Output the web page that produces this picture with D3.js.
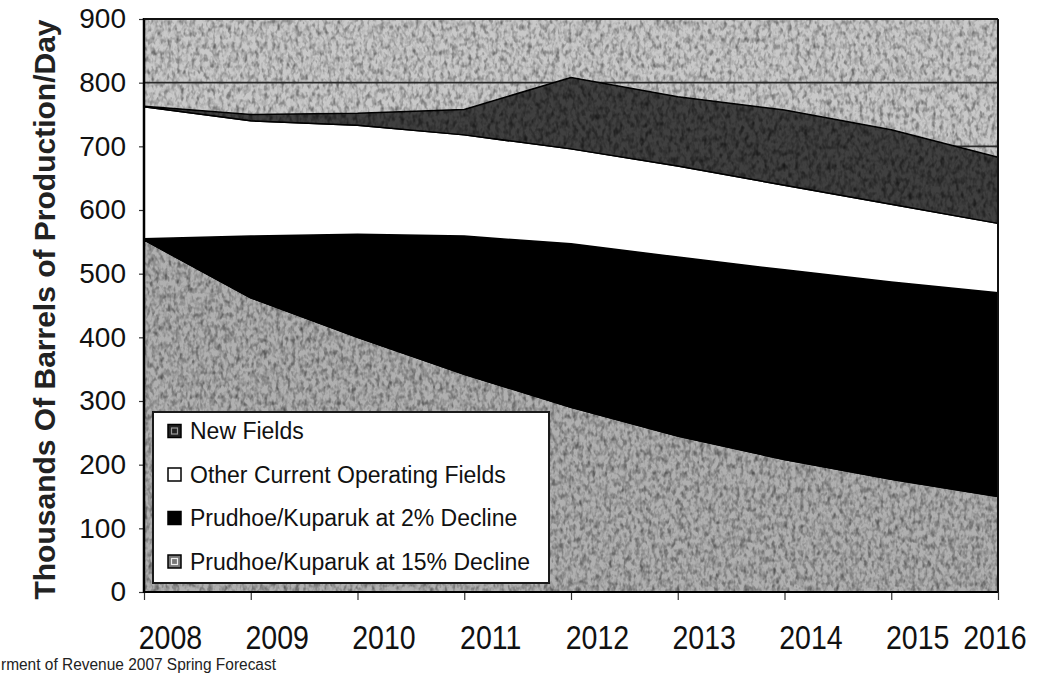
<!DOCTYPE html>
<html>
<head>
<meta charset="utf-8">
<script src="https://cdn.jsdelivr.net/npm/d3@7"></script>
<style>
  html, body { margin: 0; padding: 0; background: #ffffff; }
  svg { display: block; }
</style>
</head>
<body>
<svg id="chart" width="1046" height="681"></svg>
<script>
// North Slope production outlook, thousands of barrels per day (stacked layers)
const years = [2008, 2009, 2010, 2011, 2012, 2013, 2014, 2015, 2016];
const prudhoe15 = [553, 462, 400, 342, 290, 245, 208, 177, 150];
const prudhoe2 = [2, 97, 162, 217, 257, 281, 298, 310, 320];
const otherFields = [207, 181, 171, 159, 149, 143, 133, 122, 109];
const newFields = [1, 10, 19, 40, 112, 109, 118, 117, 104];
const yTicks = [0, 100, 200, 300, 400, 500, 600, 700, 800, 900];

const seriesKeys = ["p15", "p2", "other", "newf"];
const seriesNames = {
  newf: "New Fields",
  other: "Other Current Operating Fields",
  p2: "Prudhoe/Kuparuk at 2% Decline",
  p15: "Prudhoe/Kuparuk at 15% Decline"
};
const legendOrder = ["newf", "other", "p2", "p15"];
const fills = { p15: "#b0b0b0", p2: "#000000", other: "#ffffff", newf: "#404040" };

const rows = years.map((yr, i) => ({
  year: yr, p15: prudhoe15[i], p2: prudhoe2[i], other: otherFields[i], newf: newFields[i]
}));

const svg = d3.select("#chart");
const plotL = 144, plotR = 998, plotT = 19, plotB = 592;

const x = d3.scaleLinear().domain([2008, 2016]).range([plotL, plotR]);
const y = d3.scaleLinear().domain([0, 900]).range([plotB, plotT]);

// speckle filters: noise turned into a sparse alpha mask, clipped to the shape
const defs = svg.append("defs");
function speckle(id, freq, seed, gain, offset) {
  const f = defs.append("filter").attr("id", id)
    .attr("x", 0).attr("y", 0).attr("width", "100%").attr("height", "100%");
  f.append("feTurbulence").attr("type", "fractalNoise")
    .attr("baseFrequency", freq).attr("numOctaves", 2).attr("seed", seed).attr("result", "noise");
  f.append("feColorMatrix").attr("in", "noise").attr("type", "matrix")
    .attr("values", `0 0 0 0 0  0 0 0 0 0  0 0 0 0 0  ${gain} 0 0 0 ${offset}`).attr("result", "mask");
  f.append("feComposite").attr("in", "mask").attr("in2", "SourceAlpha").attr("operator", "in");
}
speckle("darkSpeck", "0.22 0.14", 7, 2.6, -1.2);
speckle("lightSpeck", "0.25 0.16", 19, 2.6, -1.2);

function textured(sel, darkOpacity, lightOpacity) {
  sel.clone().attr("fill", "#000").attr("stroke", "none")
    .attr("filter", "url(#darkSpeck)").attr("opacity", darkOpacity);
  sel.clone().attr("fill", "#fff").attr("stroke", "none")
    .attr("filter", "url(#lightSpeck)").attr("opacity", lightOpacity);
}

// plot background
const bg = svg.append("rect")
  .attr("x", plotL).attr("y", plotT)
  .attr("width", plotR - plotL).attr("height", plotB - plotT)
  .attr("fill", "#c9c9c9");
textured(bg, 0.22, 0.4);

// horizontal gridlines
svg.append("g").selectAll("line").data(yTicks.slice(1, -1)).join("line")
  .attr("x1", plotL).attr("x2", plotR)
  .attr("y1", d => y(d)).attr("y2", d => y(d))
  .attr("stroke", "#2a2a2a").attr("stroke-width", 1.6);

// stacked areas
const stack = d3.stack().keys(seriesKeys);
const layers = stack(rows);
const area = d3.area()
  .x(d => x(d.data.year))
  .y0(d => y(d[0]))
  .y1(d => y(d[1]));

const areaG = svg.append("g");
areaG.selectAll("path.layer").data(layers).join("path")
  .attr("class", "layer")
  .attr("d", area)
  .attr("fill", d => fills[d.key])
  .attr("stroke", "#000").attr("stroke-width", 1.5).attr("stroke-linejoin", "round");

areaG.selectAll("path.layer").filter(d => d.key === "p15").call(s => textured(s, 0.3, 0.4));
areaG.selectAll("path.layer").filter(d => d.key === "newf").call(s => textured(s, 0.5, 0.3));

// legend
const lg = svg.append("g");
lg.append("rect")
  .attr("x", 153).attr("y", 412).attr("width", 396).attr("height", 171)
  .attr("fill", "#ffffff").attr("stroke", "#1a1a1a").attr("stroke-width", 2);
const items = lg.selectAll("g.item").data(legendOrder).join("g")
  .attr("class", "item")
  .attr("transform", (d, i) => `translate(168, ${431 + i * 43.5})`);
items.append("rect")
  .attr("x", 0).attr("y", -6.5).attr("width", 13).attr("height", 13)
  .attr("fill", d => d === "newf" ? "#222" : d === "p15" ? "#777" : fills[d])
  .attr("stroke", "#000").attr("stroke-width", 1.5);
items.filter(d => d === "newf" || d === "p15").append("rect")
  .attr("x", 3.5).attr("y", -3).attr("width", 6).attr("height", 6)
  .attr("fill", "none").attr("stroke", d => d === "newf" ? "#9a9a9a" : "#eee").attr("stroke-width", 1.2);
items.append("text")
  .attr("x", 22).attr("y", 0).attr("dy", "0.35em")
  .attr("font-family", "Liberation Sans, Arial, sans-serif")
  .attr("font-size", 23).attr("fill", "#111")
  .text(d => seriesNames[d]);

// axes
const yAxis = d3.axisLeft(y).tickValues(yTicks).tickSize(5).tickPadding(13).tickFormat(d3.format("d"));
const yg = svg.append("g").attr("transform", `translate(${plotL},0)`).call(yAxis);
yg.select(".domain").remove();
yg.selectAll(".tick line").attr("stroke", "#333").attr("stroke-width", 1.2);
yg.selectAll(".tick text")
  .attr("font-family", "Liberation Sans, Arial, sans-serif")
  .attr("font-size", 28).attr("fill", "#111");

const xAxis = d3.axisBottom(x).tickValues(years).tickSize(8).tickFormat("");
const xg = svg.append("g").attr("transform", `translate(0,${plotB})`).call(xAxis);
xg.select(".domain").remove();
xg.selectAll(".tick line").attr("stroke", "#333").attr("stroke-width", 1.2);

// year labels sit just right of their ticks (condensed); the last one is held inside the frame
svg.append("g").selectAll("text").data(years).join("text")
  .attr("transform", d => `translate(${Math.min(x(d) + 26.5, 995)}, 649) scale(0.84, 1)`)
  .attr("text-anchor", "middle")
  .attr("font-family", "Liberation Sans, Arial, sans-serif")
  .attr("font-size", 34).attr("fill", "#111")
  .text(d => d);

// frame
svg.append("line").attr("x1", plotL).attr("x2", plotL).attr("y1", plotT - 1).attr("y2", plotB + 1)
  .attr("stroke", "#000").attr("stroke-width", 2.5);
svg.append("line").attr("x1", plotL).attr("x2", plotR).attr("y1", plotB).attr("y2", plotB)
  .attr("stroke", "#000").attr("stroke-width", 2);
svg.append("line").attr("x1", plotL).attr("x2", plotR).attr("y1", plotT).attr("y2", plotT)
  .attr("stroke", "#111").attr("stroke-width", 2);
svg.append("line").attr("x1", plotR).attr("x2", plotR).attr("y1", plotT).attr("y2", plotB)
  .attr("stroke", "#111").attr("stroke-width", 2);

// y-axis title
svg.append("text")
  .attr("transform", `translate(55, ${(plotT + plotB) / 2 + 4}) rotate(-90)`)
  .attr("text-anchor", "middle")
  .attr("font-family", "Liberation Sans, Arial, sans-serif")
  .attr("font-weight", "bold")
  .attr("font-size", 30).attr("fill", "#222")
  .text("Thousands Of Barrels of Production/Day");

// source note
svg.append("text")
  .attr("x", 1).attr("y", 670)
  .attr("textLength", 275).attr("lengthAdjust", "spacingAndGlyphs")
  .attr("font-family", "Liberation Sans, Arial, sans-serif")
  .attr("font-size", 16).attr("fill", "#222")
  .text("rment of Revenue 2007 Spring Forecast");
</script>
</body>
</html>
